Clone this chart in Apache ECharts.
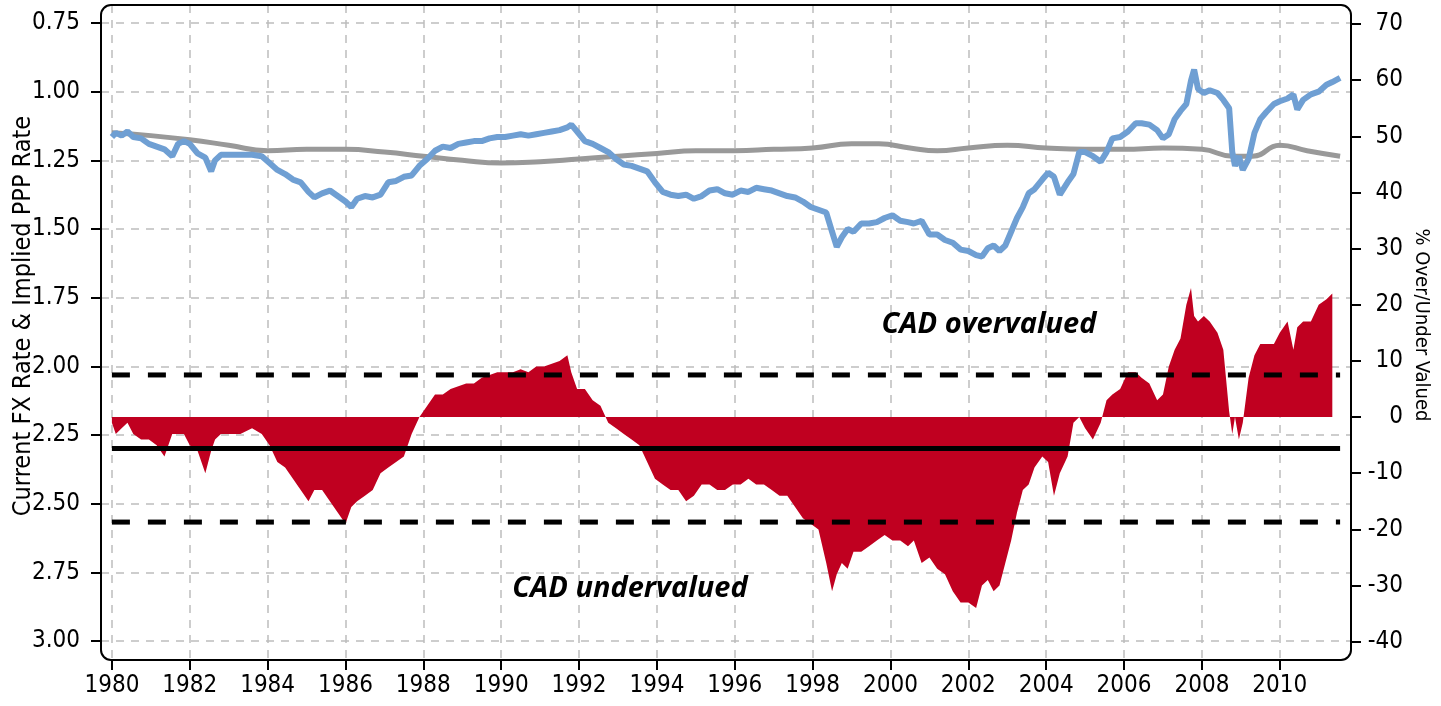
<!DOCTYPE html>
<html>
<head>
<meta charset="utf-8">
<script src="https://cdn.jsdelivr.net/npm/echarts@6/dist/echarts.min.js"></script>
<style>
  html, body { margin: 0; padding: 0; background: #fff; }
  #chart { width: 1441px; height: 706px; }
</style>
</head>
<body>
<div id="chart"></div>
<script>
// year (decimal) and current FX rate
const fxYears = [1980.00,1980.10,1980.25,1980.40,1980.55,1980.75,1980.95,1981.15,1981.35,1981.55,1981.70,1981.85,
  1982.00,1982.20,1982.40,1982.55,1982.65,1982.80,1983.00,1983.30,1983.60,1983.85,1984.05,1984.25,1984.45,1984.65,
  1984.85,1985.05,1985.20,1985.40,1985.60,1985.80,1986.00,1986.15,1986.30,1986.50,1986.70,1986.90,1987.10,1987.30,
  1987.50,1987.70,1987.90,1988.10,1988.30,1988.50,1988.70,1988.90,1989.10,1989.30,1989.50,1989.70,1989.90,1990.10,
  1990.30,1990.50,1990.70,1990.90,1991.10,1991.30,1991.50,1991.70,1991.80,1991.95,1992.15,1992.35,1992.55,1992.75,
  1992.95,1993.15,1993.35,1993.55,1993.75,1993.95,1994.15,1994.35,1994.55,1994.75,1994.95,1995.15,1995.35,1995.55,
  1995.75,1995.95,1996.15,1996.35,1996.55,1996.75,1996.95,1997.15,1997.35,1997.55,1997.75,1997.95,1998.15,1998.35,
  1998.50,1998.62,1998.75,1998.90,1999.05,1999.25,1999.45,1999.65,1999.85,2000.05,2000.25,2000.45,2000.60,2000.80,
  2001.00,2001.20,2001.40,2001.60,2001.80,2002.00,2002.20,2002.35,2002.50,2002.65,2002.80,2002.95,2003.10,2003.25,
  2003.40,2003.55,2003.70,2003.90,2004.05,2004.20,2004.35,2004.55,2004.70,2004.85,2005.00,2005.20,2005.40,2005.55,
  2005.70,2005.90,2006.10,2006.30,2006.45,2006.65,2006.85,2007.00,2007.15,2007.30,2007.45,2007.60,2007.72,2007.80,
  2007.90,2008.05,2008.20,2008.40,2008.55,2008.70,2008.78,2008.85,2008.95,2009.05,2009.20,2009.35,2009.50,2009.65,
  2009.85,2010.00,2010.20,2010.35,2010.45,2010.60,2010.80,2011.00,2011.20,2011.35,2011.55]
const fxRate = [1.165,1.15,1.16,1.145,1.165,1.17,1.19,1.20,1.21,1.235,1.19,1.18,
  1.19,1.225,1.24,1.29,1.25,1.23,1.23,1.23,1.23,1.235,1.26,1.285,1.30,1.32,
  1.33,1.365,1.385,1.37,1.36,1.38,1.40,1.42,1.39,1.38,1.385,1.375,1.33,1.325,
  1.31,1.305,1.27,1.245,1.215,1.20,1.205,1.19,1.185,1.18,1.18,1.17,1.165,1.165,
  1.16,1.155,1.16,1.155,1.15,1.145,1.14,1.13,1.12,1.145,1.18,1.19,1.205,1.22,
  1.245,1.265,1.27,1.28,1.29,1.33,1.365,1.375,1.38,1.375,1.39,1.38,1.36,1.355,
  1.37,1.375,1.36,1.365,1.35,1.355,1.36,1.37,1.38,1.385,1.40,1.42,1.43,1.44,
  1.51,1.565,1.53,1.50,1.51,1.48,1.48,1.475,1.46,1.45,1.47,1.475,1.48,1.47,
  1.52,1.52,1.54,1.55,1.575,1.58,1.595,1.60,1.57,1.56,1.58,1.56,1.51,1.46,
  1.42,1.37,1.355,1.32,1.295,1.31,1.375,1.33,1.30,1.22,1.22,1.235,1.255,1.22,
  1.17,1.165,1.145,1.115,1.115,1.12,1.14,1.17,1.155,1.10,1.07,1.045,0.96,0.92,
  0.99,1.005,0.995,1.005,1.03,1.06,1.22,1.27,1.235,1.285,1.245,1.15,1.10,1.075,
  1.045,1.035,1.025,1.01,1.065,1.03,1.01,1.00,0.975,0.965,0.95]

// implied PPP rate
const pppYears = [1980.0,1981.0,1982.0,1983.0,1984.0,1985.0,1986.0,1987.0,1988.0,1989.0,1990.0,1991.0,1992.0,
  1993.0,1994.0,1995.0,1996.0,1997.0,1998.0,1999.0,1999.7,2000.5,2001.2,2002.0,2003.0,2004.0,2005.0,2006.0,
  2007.0,2008.0,2008.8,2009.3,2010.0,2010.7,2011.55]
const pppRate = [1.15,1.16,1.175,1.195,1.215,1.21,1.21,1.22,1.235,1.25,1.26,1.255,1.245,
  1.235,1.225,1.215,1.215,1.21,1.205,1.19,1.19,1.205,1.215,1.205,1.195,1.205,1.21,1.21,
  1.205,1.21,1.235,1.235,1.195,1.215,1.235]

// % over/under valued (red area), same dates as the FX line
const gapPct = [-1,-3,-2,-1,-3,-4,-4,-5,-7,-3,-3,-3,
  -5,-6,-10,-6,-4,-3,-3,-3,-2,-3,-5,-8,-9,-11,
  -13,-15,-13,-13,-15,-17,-19,-16,-15,-14,-13,-10,-9,-8,
  -7,-3,0,2,4,4,5,5.5,6,6,7,7.5,8,8,
  8,8.5,8,9,9,9.5,10,11,8,5,5,3,2,-1,
  -2,-3,-4,-5,-8,-11,-12,-13,-13,-15,-14,-12,-12,-13,
  -13,-12,-12,-11,-12,-12,-13,-14,-14,-16,-18,-19,-20,-26,
  -31,-28,-26,-27,-24,-24,-23,-22,-21,-22,-22,-23,-22,-26,
  -25,-27,-28,-31,-33,-33,-34,-30,-29,-31,-30,-26,-22,-17,
  -13,-12,-9,-7,-8,-14,-10,-7,-1,0,-2,-4,-1,3,
  4,5,8,8,7,6,3,4,9,12,14,20,23,18,
  17,18,17,15,12,1,-3,0,-4,-1,7,11,13,13,
  13,15,17,12,16,17,17,20,21,22]

// mean and +/- one band lines
const bandStart = 1980.0
const bandEnd = 2011.55
const meanLine = -5.6
const upperBand = 7.5
const lowerBand = -18.7

const xTicks = [1980,1982,1984,1986,1988,1990,1992,1994,1996,1998,2000,2002,2004,2006,2008,2010]
const leftTicks = [0.75,1.00,1.25,1.50,1.75,2.00,2.25,2.50,2.75,3.00]
const rightTicks = [-40,-30,-20,-10,0,10,20,30,40,50,60,70]

const pair = (xs, ys) => ys.map((v, i) => [xs[i], v])

const font = "'Liberation Sans Narrow', 'DejaVu Sans Condensed', sans-serif"
const noteFont = 'italic bold 29px "Open Sans", sans-serif'
const gridStyle = { color: '#bdbdbd', width: 1.5, type: [8, 7] }
const tickStyle = { color: '#000', width: 2 }

let chart = echarts.init(document.getElementById('chart'))
chart.setOption({
  animation: false,
  grid: { left: 101, right: 90, top: 5, bottom: 46, containLabel: false },
  xAxis: {
    type: 'value',
    min: 1979.72,
    max: 2011.83,
    axisLine: { show: false, onZero: false },
    axisTick: { show: true, length: 10, lineStyle: tickStyle, customValues: xTicks },
    axisLabel: { customValues: xTicks, margin: 14, color: '#000', fontSize: 24, fontFamily: font,
      formatter: v => String(v) },
    splitLine: { show: true, lineStyle: gridStyle }
  },
  yAxis: [
    {
      type: 'value',
      inverse: true,
      min: 0.6845,
      max: 3.069,
      position: 'left',
      axisLine: { show: false, onZero: false },
      axisTick: { show: true, length: 10, lineStyle: tickStyle, customValues: leftTicks },
      axisLabel: { customValues: leftTicks, margin: 21, color: '#000', fontSize: 24, fontFamily: font,
        formatter: v => v.toFixed(2) },
      splitLine: { show: true, lineStyle: gridStyle }
    },
    {
      type: 'value',
      min: -43.26,
      max: 73.38,
      position: 'right',
      axisLine: { show: false, onZero: false },
      axisTick: { show: true, length: 10, lineStyle: tickStyle, customValues: rightTicks },
      axisLabel: { customValues: rightTicks, margin: 52, align: 'right', color: '#000', fontSize: 24,
        fontFamily: font, formatter: v => String(v) },
      splitLine: { show: false }
    }
  ],
  series: [
    {
      name: 'gap',
      type: 'line',
      yAxisIndex: 1,
      data: pair(fxYears, gapPct),
      showSymbol: false,
      lineStyle: { width: 0 },
      areaStyle: { color: '#c00020', opacity: 1 },
      z: 2
    },
    {
      name: 'upper',
      type: 'line',
      yAxisIndex: 1,
      data: [[bandStart, upperBand], [bandEnd, upperBand]],
      showSymbol: false,
      lineStyle: { color: '#000', width: 5, type: [18, 18] },
      z: 3
    },
    {
      name: 'mean',
      type: 'line',
      yAxisIndex: 1,
      data: [[bandStart, meanLine], [bandEnd, meanLine]],
      showSymbol: false,
      lineStyle: { color: '#000', width: 5 },
      z: 3
    },
    {
      name: 'lower',
      type: 'line',
      yAxisIndex: 1,
      data: [[bandStart, lowerBand], [bandEnd, lowerBand]],
      showSymbol: false,
      lineStyle: { color: '#000', width: 5, type: [18, 18] },
      z: 3
    },
    {
      name: 'ppp',
      type: 'line',
      yAxisIndex: 0,
      data: pair(pppYears, pppRate),
      smooth: true,
      showSymbol: false,
      lineStyle: { color: '#999999', width: 5 },
      z: 4
    },
    {
      name: 'fx',
      type: 'line',
      yAxisIndex: 0,
      data: pair(fxYears, fxRate),
      showSymbol: false,
      lineStyle: { color: '#6f9fd3', width: 6 },
      z: 5
    }
  ],
  graphic: [
    {
      type: 'rect',
      shape: { x: 101, y: 5, width: 1250, height: 655, r: 10 },
      style: { fill: 'none', stroke: '#000', lineWidth: 2 },
      z: 10
    },
    {
      type: 'text',
      x: 23, y: 316, rotation: Math.PI / 2,
      style: { text: 'Current FX Rate & Implied PPP Rate', fill: '#000', font: '25px ' + font,
        align: 'center', verticalAlign: 'middle' }
    },
    {
      type: 'text',
      x: 1421, y: 325, rotation: -Math.PI / 2,
      style: { text: '% Over/Under Valued', fill: '#000', font: '20px ' + font,
        align: 'center', verticalAlign: 'middle' }
    },
    {
      type: 'text',
      x: 989, y: 325,
      style: { text: 'CAD overvalued', fill: '#000', font: noteFont, align: 'center', verticalAlign: 'middle' },
      z: 10
    },
    {
      type: 'text',
      x: 630, y: 589,
      style: { text: 'CAD undervalued', fill: '#000', font: noteFont, align: 'center', verticalAlign: 'middle' },
      z: 10
    }
  ]
})
</script>
</body>
</html>
